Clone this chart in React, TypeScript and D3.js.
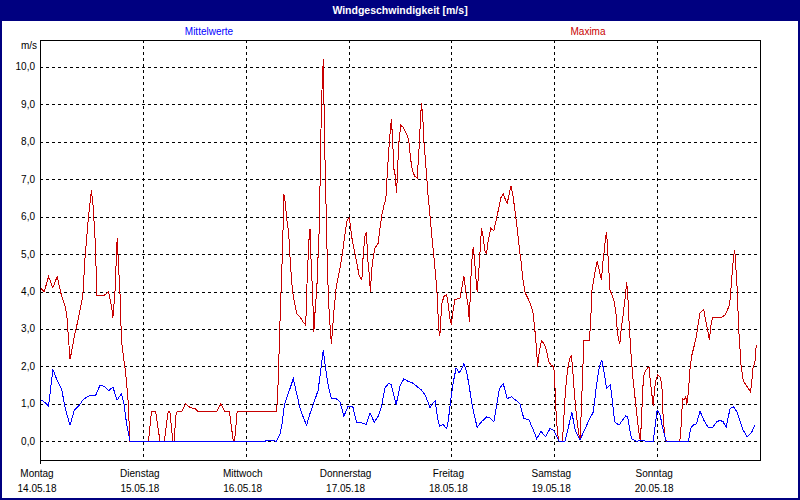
import React from "react";
import * as d3 from "d3";

const title = "Windgeschwindigkeit [m/s]";
const unitLabel = "m/s";
const seriesNames = ["Mittelwerte", "Maxima"];
const dayNames = ["Montag", "Dienstag", "Mittwoch", "Donnerstag", "Freitag", "Samstag", "Sonntag"];
const dayDates = ["14.05.18", "15.05.18", "16.05.18", "17.05.18", "18.05.18", "19.05.18", "20.05.18"];
const yTicks = [0, 1, 2, 3, 4, 5, 6, 7, 8, 9, 10];

// [hour since Mon 14.05.18 00:00, m/s]
const mittelwerte: [number, number][] = [
  [0, 1.12], [1, 1.05], [2, 0.94], [3, 1.92], [4, 1.63], [5, 1.41], [6, 0.83], [7, 0.43], [8, 0.83], [9, 0.94],
  [10, 1.1], [11, 1.19], [12, 1.23], [13, 1.23], [14, 1.5], [15, 1.47], [16, 1.35], [17, 1.45], [18, 1.1], [19, 1.27],
  [19.6, 1.0], [20.2, 0.47], [21, 0], [52.5, 0], [53, 0.03], [54, 0.03], [55.2, 0], [56, 0.2], [56.5, 0.47], [57, 0.95],
  [57.6, 1.18], [58.3, 1.4], [59.1, 1.67], [59.9, 1.27], [60.7, 0.87], [61.4, 0.65], [62.2, 0.43], [63, 0.74], [63.8, 1.0],
  [64.9, 1.36], [65.5, 1.9], [66.1, 2.43], [66.7, 1.9], [67.3, 1.45], [68, 1.14], [69.1, 1.14], [70, 1.05], [70.6, 0.8],
  [70.9, 0.67], [71.9, 0.94], [73, 0.92], [73.9, 0.49], [75.1, 0.49], [76.1, 0.45], [77, 0.76], [78, 0.51], [78.9, 0.67],
  [79.7, 0.94], [80.5, 1.43], [81.3, 1.54], [81.9, 1.52], [83.1, 0.98], [84, 1.47], [84.9, 1.67], [85.9, 1.6], [86.9, 1.56],
  [87.9, 1.47], [88.9, 1.38], [89.8, 1.25], [90.6, 1.02], [91, 0.9], [91.6, 1.02], [92.2, 1.07], [92.7, 0.67], [93.2, 0.4],
  [94.1, 0.45], [94.9, 0.33], [95.3, 0.58], [95.8, 1.07], [96.4, 1.56], [97.1, 1.96], [97.8, 1.83], [98.4, 1.93], [98.9, 2.08],
  [99.6, 1.83], [100.2, 1.43], [100.9, 0.92], [102, 0.37], [103, 0.52], [104.2, 0.65], [105, 0.63], [105.9, 0.52], [106.6, 1.0],
  [107.2, 1.41], [108.1, 1.54], [109, 1.14], [110, 1.19], [111, 1.1], [112, 1.0], [112.9, 0.6], [114, 0.59], [114.9, 0.36],
  [115.9, 0.07], [116.9, 0.26], [118, 0.12], [119, 0.34], [119.8, 0.3], [120.4, 0.16], [121.1, 0], [122.5, 0], [123.3, 0.38],
  [124.1, 0.77], [124.9, 0.29], [126, 0.03], [127.2, 0.34], [128.3, 0.61], [129.1, 0.78], [129.9, 1.54], [130.5, 1.99],
  [131.1, 2.17], [131.6, 1.85], [132.2, 1.41], [133.1, 1.52], [133.7, 0.92], [134.1, 0.52], [135.1, 0.43], [135.9, 0.56],
  [136.7, 0.68], [137.1, 0.65], [138, 0.07], [139.2, 0], [140.4, 0.03], [141.5, 0], [143.1, 0], [144, 0.83], [144.7, 0.7],
  [145.3, 0.35], [146.1, 0], [151.3, 0], [151.8, 0.34], [152.4, 0.43], [153.2, 0.47], [154, 0.81], [154.9, 0.56], [155.9, 0.37],
  [156.9, 0.37], [157.9, 0.52], [158.7, 0.56], [159.4, 0.52], [160.1, 0.37], [161, 0.87], [161.8, 0.92], [162.6, 0.79],
  [163.3, 0.56], [164.1, 0.29], [165, 0.12], [166.1, 0.25], [166.8, 0.43],
];

const maxima: [number, number][] = [
  [0, 4.1], [1, 4.0], [2, 4.4], [3, 4.1], [4, 4.4], [5, 3.9], [5.6, 3.7], [6, 3.55], [6.3, 3.3], [7, 2.2], [7.3, 2.35],
  [8, 2.8], [9, 3.3], [10, 3.9], [10.5, 4.9], [11.3, 6.0], [12, 6.7], [12.4, 6.27], [13, 5.1], [13.2, 3.9], [15, 3.9],
  [16, 4.0], [16.7, 3.6], [17, 3.3], [17.5, 4.0], [18, 5.42], [18.7, 3.86], [19, 2.7], [20, 1.8], [20.5, 1.19], [21, 0],
  [25.3, 0], [26, 0.79], [27, 0.79], [28, 0], [29, 0], [29.9, 0.79], [30.3, 0.79], [31, 0], [31.3, 0], [31.7, 0.7], [32, 0.79],
  [33, 0.79], [34, 1.0], [35, 0.9], [36.2, 0.87], [36.9, 0.79], [41.2, 0.79], [42.2, 1.0], [43.2, 0.79], [44.2, 0.79],
  [45.1, 0], [45.4, 0], [46, 0.79], [55.1, 0.79], [55.4, 1.05], [55.7, 2.07], [56, 3.2], [56.3, 4.2], [56.6, 5.15],
  [56.9, 6.6], [57.2, 6.4], [57.6, 5.9], [58, 5.6], [58.3, 5.0], [58.7, 4.3], [59.1, 3.86], [59.5, 3.63], [59.9, 3.41],
  [60.7, 3.32], [61.4, 3.19], [62, 3.1], [62.3, 4.2], [62.7, 5.3], [63, 5.68], [63.3, 4.66], [63.6, 4.0], [63.9, 2.92],
  [64.2, 3.5], [64.6, 4.1], [64.9, 5.0], [65.2, 5.8], [65.5, 8.04], [65.8, 9.38], [66.1, 10.2], [66.4, 8.04], [66.7, 6.53],
  [67, 5.0], [67.3, 3.77], [67.7, 3.05], [68, 2.6], [68.3, 3.05], [68.6, 3.5], [69.1, 4.1], [69.6, 4.4], [70.2, 4.75],
  [70.6, 5.04], [71.2, 5.57], [71.7, 5.93], [72.2, 5.97], [72.7, 5.48], [73.3, 5.12], [73.9, 4.77], [74.5, 4.41], [75.1, 4.32],
  [75.4, 4.95], [75.8, 5.48], [76.2, 5.6], [76.4, 4.95], [76.8, 4.5], [77.1, 4.0], [77.4, 4.59], [77.8, 4.95], [78.2, 5.17],
  [78.9, 5.29], [79.3, 5.66], [79.8, 6.06], [80.3, 6.33], [80.7, 6.46], [81, 7.09], [81.4, 7.8], [81.7, 8.24], [82, 8.62],
  [82.3, 7.98], [82.6, 7.26], [82.9, 7.09], [83.2, 6.62], [83.5, 7.44], [83.8, 8.07], [84.2, 8.44], [84.8, 8.38], [85.4, 8.24],
  [86, 8.07], [86.5, 7.53], [86.9, 7.22], [87.5, 7.07], [88, 7.04], [88.4, 7.71], [88.7, 8.42], [89, 9.03], [89.3, 8.69],
  [89.6, 7.98], [90.1, 7.26], [90.5, 6.64], [91, 6.02], [91.5, 5.39], [91.9, 4.95], [92.4, 4.32], [92.7, 3.88], [93, 3.03],
  [93.3, 2.81], [93.5, 3.25], [93.8, 3.7], [94.3, 3.88], [94.9, 3.92], [95.3, 3.61], [95.7, 3.25], [96, 3.12], [96.3, 3.43],
  [96.8, 3.79], [97.2, 3.8], [98, 3.83], [98.5, 4.14], [98.9, 4.41], [99.4, 3.97], [99.9, 3.61], [100.2, 3.2], [100.4, 3.95],
  [100.7, 4.75], [101.1, 5.2], [101.4, 4.84], [101.7, 4.39], [102, 3.99], [102.4, 4.57], [102.7, 5.1], [103, 5.69],
  [103.4, 5.46], [103.8, 5.1], [104.2, 5.02], [104.6, 5.37], [105.2, 5.69], [105.9, 5.62], [106.6, 6.0], [107.2, 6.31],
  [107.6, 6.53], [108.1, 6.6], [108.6, 6.46], [109, 6.35], [109.5, 6.62], [109.9, 6.82], [110.4, 6.53], [110.9, 6.09],
  [111.4, 5.64], [111.8, 5.2], [112.3, 4.75], [112.7, 4.3], [113.2, 3.97], [113.9, 3.81], [114.5, 3.64], [115, 3.46],
  [115.3, 3.15], [115.6, 2.83], [115.9, 2.39], [116.1, 1.99], [116.5, 2.39], [117, 2.68], [117.6, 2.61], [118.2, 2.43],
  [118.7, 2.12], [119.3, 2.03], [119.9, 1.99], [120.2, 1.36], [120.5, 0.56], [120.9, 0.12], [121.1, 0], [121.9, 0],
  [122.2, 0.56], [122.6, 1.36], [123.1, 1.9], [123.5, 2.17], [124, 2.3], [124.3, 1.9], [124.7, 1.27], [125.2, 0.65],
  [125.7, 0.2], [126, 0.03], [126.3, 0.83], [126.6, 1.72], [126.9, 2.7], [128.2, 2.7], [128.5, 3.24], [128.8, 4.04],
  [129.1, 4.26], [129.6, 4.57], [130, 4.8], [130.5, 4.57], [131, 4.3], [131.3, 4.75], [131.6, 5.02], [131.9, 5.37],
  [132.2, 5.6], [132.5, 5.02], [133, 4.04], [133.5, 3.9], [133.9, 3.77], [134.4, 3.41], [134.7, 2.97], [135, 2.7],
  [135.3, 2.61], [135.6, 2.97], [136.1, 3.41], [136.6, 3.9], [136.9, 4.26], [137.2, 3.77], [137.5, 3.06], [138, 2.17],
  [138.4, 1.63], [138.9, 1.1], [139.4, 0.56], [139.8, 0.2], [140.1, 0], [140.5, 1.0], [140.8, 1.72], [141.2, 1.86],
  [141.7, 1.95], [142.1, 1.99], [142.3, 1.72], [142.7, 1.32], [143.1, 0.95], [143.4, 1.4], [143.7, 1.63], [144.1, 1.77],
  [144.7, 1.72], [145.1, 1.5], [145.4, 0.65], [145.8, 0.12], [146.2, 0], [149.3, 0], [149.7, 0.56], [149.9, 1.14],
  [150.3, 1.1], [150.7, 1.19], [150.9, 0.96], [151.3, 1.32], [151.7, 1.99], [152.1, 2.3], [152.4, 2.44], [152.8, 2.62],
  [153.2, 2.84], [153.6, 3.15], [154, 3.42], [154.5, 3.49], [154.9, 3.51], [155.3, 3.24], [155.8, 2.97], [156.2, 2.71],
  [156.5, 3.06], [156.9, 3.31], [159, 3.31], [159.9, 3.38], [160.4, 3.51], [160.9, 3.64], [161.2, 4.04], [161.5, 4.49],
  [161.8, 4.89], [162.1, 5.12], [162.4, 4.58], [162.7, 4.04], [163, 3.06], [163.3, 2.53], [163.6, 1.99], [164.1, 1.63],
  [164.7, 1.5], [165.3, 1.41], [165.8, 1.32], [166.1, 1.63], [166.4, 1.99], [166.8, 2.08], [167, 2.44], [167.2, 2.57],
];

const W = 800;
const H = 500;
const FONT = "'Liberation Sans', Arial, sans-serif";
const NAVY = "#000080";
const BLUE = "#0000ff";
const RED = "#c80000";

export default function App() {
  const left = 40, right = 760, top = 40, bottom = 460;
  const x = d3.scaleLinear().domain([0, 168]).range([left, right]);
  const y = d3.scaleLinear().domain([-0.5, 10.72]).range([bottom, top]);
  const line = d3.line<[number, number]>().x((d) => x(d[0])).y((d) => y(d[1]));
  const fmt = (v: number) => v.toFixed(1).replace(".", ",");
  const snap = (v: number) => Math.round(v) + 0.5;

  return (
    <svg width={W} height={H} style={{ display: "block", position: "absolute", left: 0, top: 0 }} fontFamily={FONT}>
      <rect x={0} y={0} width={W} height={H} fill="#ffffff" />
      <rect x={0} y={0} width={W} height={21} fill={NAVY} />
      <text x={W / 2} y={14} textAnchor="middle" fill="#ffffff" fontSize={10.5} fontWeight="bold">{title}</text>
      <rect x={1} y={1} width={W - 2} height={H - 2} fill="none" stroke={NAVY} strokeWidth={2} />

      <text x={209} y={35} textAnchor="middle" fill={BLUE} fontSize={10}>{seriesNames[0]}</text>
      <text x={588} y={35} textAnchor="middle" fill={RED} fontSize={10}>{seriesNames[1]}</text>

      <g shapeRendering="crispEdges" stroke="#000" strokeWidth={1} strokeDasharray="3,3">
        {yTicks.map((t) => (
          <line key={"h" + t} x1={left} x2={right} y1={snap(y(t))} y2={snap(y(t))} />
        ))}
        {dayNames.slice(1).map((_, i) => (
          <line key={"v" + i} x1={snap(x((i + 1) * 24))} x2={snap(x((i + 1) * 24))} y1={top} y2={bottom} />
        ))}
      </g>

      <text x={37} y={48.5} textAnchor="end" fontSize={10} fill="#000">{unitLabel}</text>
      {yTicks.map((t) => (
        <text key={"yl" + t} x={35} y={y(t) + 3.5} textAnchor="end" fontSize={10} fill="#000">{fmt(t)}</text>
      ))}

      {dayNames.map((d, i) => (
        <g key={"xl" + i}>
          <text x={x(i * 24) - 3} y={477} textAnchor="middle" fontSize={10} fill="#000">{d}</text>
          <text x={x(i * 24) - 3} y={492} textAnchor="middle" fontSize={10} fill="#000">{dayDates[i]}</text>
        </g>
      ))}

      <path d={line(maxima) || ""} fill="none" stroke={RED} strokeWidth={1} shapeRendering="crispEdges" />
      <path d={line(mittelwerte) || ""} fill="none" stroke={BLUE} strokeWidth={1} shapeRendering="crispEdges" />

      <g shapeRendering="crispEdges" stroke="#000" strokeWidth={1} fill="none">
        <rect x={left + 0.5} y={top + 0.5} width={right - left} height={bottom - top} />
        <line x1={left + 0.5} x2={left + 0.5} y1={bottom} y2={bottom + 4} />
      </g>
    </svg>
  );
}
